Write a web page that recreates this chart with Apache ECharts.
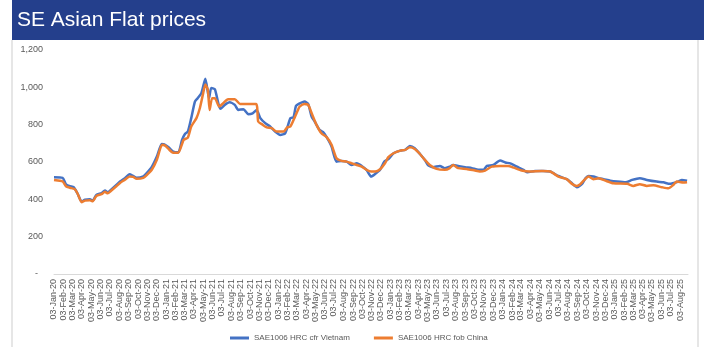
<!DOCTYPE html>
<html>
<head>
<meta charset="utf-8">
<script src="https://cdn.jsdelivr.net/npm/echarts@6/dist/echarts.min.js"></script>
<style>html,body{margin:0;padding:0;background:#fff}#c{width:704px;height:347px}</style>
</head>
<body>
<div id="c"></div>
<script>
const titleText = "SE Asian Flat prices";
const seriesNames = ["SAE1006 HRC cfr Vietnam", "SAE1006 HRC fob China"];
const yTicks = [0, 200, 400, 600, 800, 1000, 1200];

const vietnamDates = ["2020-01-03","2020-01-31","2020-02-11","2020-02-24","2020-03-07","2020-03-20","2020-04-02","2020-04-13","2020-04-29","2020-05-08","2020-05-20","2020-06-06","2020-06-17","2020-06-26","2020-07-06","2020-07-24","2020-08-05","2020-08-21","2020-09-05","2020-09-17","2020-09-28","2020-10-20","2020-10-31","2020-11-17","2020-12-03","2020-12-19","2020-12-27","2021-01-10","2021-01-25","2021-02-11","2021-02-23","2021-03-04","2021-03-14","2021-03-25","2021-04-06","2021-04-15","2021-04-27","2021-05-10","2021-05-22","2021-05-29","2021-06-10","2021-06-21","2021-06-28","2021-07-12","2021-07-28","2021-08-14","2021-08-25","2021-09-11","2021-09-27","2021-10-11","2021-10-24","2021-11-05","2021-11-21","2021-12-07","2021-12-23","2022-01-09","2022-01-25","2022-02-11","2022-02-21","2022-03-01","2022-03-10","2022-03-29","2022-04-10","2022-04-21","2022-05-01","2022-05-17","2022-05-28","2022-06-09","2022-06-25","2022-07-11","2022-07-27","2022-08-13","2022-08-29","2022-09-15","2022-10-01","2022-10-17","2022-11-01","2022-11-14","2022-11-30","2022-12-14","2022-12-27","2023-01-13","2023-02-04","2023-02-20","2023-03-07","2023-03-23","2023-04-09","2023-04-25","2023-05-05","2023-05-21","2023-06-13","2023-06-29","2023-07-15","2023-07-26","2023-08-12","2023-09-03","2023-09-25","2023-10-16","2023-11-02","2023-11-13","2023-12-04","2023-12-26","2024-01-12","2024-01-28","2024-02-19","2024-03-11","2024-03-24","2024-04-18","2024-05-15","2024-06-06","2024-07-03","2024-07-30","2024-08-16","2024-09-01","2024-09-18","2024-09-29","2024-10-09","2024-10-25","2024-11-11","2024-11-27","2024-12-19","2025-01-10","2025-02-07","2025-02-28","2025-03-25","2025-04-17","2025-05-19","2025-06-10","2025-07-01","2025-07-28","2025-08-09","2025-08-26"];
const vietnamValues = [518,515,481,470,465,430,388,398,400,393,424,433,447,437,450,477,495,513,534,525,516,523,540,575,629,697,695,679,656,652,718,749,763,835,924,942,969,1046,942,996,990,915,885,906,920,906,879,883,856,861,879,835,808,790,763,745,754,835,840,900,911,924,911,844,817,772,761,733,683,602,606,602,584,593,579,558,522,536,558,602,615,647,661,665,686,674,643,611,584,572,579,567,575,584,579,572,567,558,558,579,584,608,597,593,575,558,545,552,552,549,525,508,486,465,483,513,525,522,513,508,500,495,491,504,513,504,495,491,483,495,504,500];

const chinaDates = ["2020-01-03","2020-01-22","2020-02-01","2020-02-11","2020-02-24","2020-03-10","2020-03-20","2020-04-02","2020-04-13","2020-04-29","2020-05-08","2020-05-20","2020-06-06","2020-06-17","2020-06-26","2020-07-06","2020-07-24","2020-08-05","2020-08-21","2020-09-05","2020-09-17","2020-09-28","2020-10-20","2020-10-31","2020-11-17","2020-12-03","2020-12-20","2020-12-30","2021-01-10","2021-01-25","2021-02-11","2021-02-28","2021-03-14","2021-03-25","2021-04-11","2021-04-22","2021-05-03","2021-05-10","2021-05-18","2021-05-24","2021-06-01","2021-06-10","2021-06-24","2021-07-07","2021-07-23","2021-08-14","2021-08-31","2021-10-22","2021-10-29","2021-11-10","2021-11-26","2021-12-12","2021-12-28","2022-01-20","2022-01-31","2022-02-11","2022-02-24","2022-03-08","2022-03-13","2022-03-29","2022-04-10","2022-04-21","2022-05-07","2022-05-23","2022-06-09","2022-06-25","2022-07-11","2022-07-27","2022-08-13","2022-08-29","2022-09-15","2022-10-01","2022-10-17","2022-11-01","2022-11-14","2022-11-30","2022-12-16","2022-12-27","2023-01-13","2023-02-04","2023-02-20","2023-03-07","2023-03-23","2023-04-09","2023-04-25","2023-05-11","2023-06-02","2023-06-29","2023-07-15","2023-07-26","2023-08-12","2023-09-08","2023-10-05","2023-10-21","2023-11-07","2023-11-29","2023-12-26","2024-01-21","2024-02-08","2024-03-05","2024-04-01","2024-05-10","2024-06-06","2024-07-03","2024-07-30","2024-08-16","2024-09-01","2024-09-12","2024-09-23","2024-10-09","2024-10-25","2024-11-11","2024-12-03","2024-12-29","2025-02-12","2025-03-04","2025-03-25","2025-04-17","2025-05-08","2025-06-05","2025-06-26","2025-07-12","2025-07-23","2025-08-14","2025-08-26"];
const chinaValues = [504,500,495,470,462,455,430,385,393,395,390,418,428,440,432,445,470,488,505,522,520,510,515,530,560,612,692,688,670,650,650,718,731,790,835,888,969,1015,987,879,942,942,897,915,936,936,911,911,817,803,785,781,763,763,785,790,835,880,897,911,906,862,799,754,733,692,620,606,602,593,584,575,558,549,549,561,593,626,647,661,665,679,670,643,611,584,563,558,567,584,567,563,554,549,554,575,579,579,570,554,549,552,549,522,508,483,472,481,500,522,508,513,500,486,483,472,481,472,475,465,459,477,495,490,491];

const monthNames = ["Jan","Feb","Mar","Apr","May","Jun","Jul","Aug","Sep","Oct","Nov","Dec"];
const axisStart = "2020-01-03";
const axisEnd = "2025-08-29";

function ts(s){ return new Date(s + "T00:00:00").getTime(); }

const tickValues = [];
const tickLabels = [];
for (let y = 2020; y <= 2025; y++) {
  for (let m = 0; m < 12; m++) {
    if (y === 2025 && m > 7) break;
    tickValues.push(new Date(y, m, 3).getTime());
    tickLabels.push("03-" + monthNames[m] + "-" + String(y).slice(2));
  }
}

const chart = echarts.init(document.getElementById("c"), null, {renderer: "canvas"});
const font = "'Liberation Sans', Arial, sans-serif";
chart.setOption({
  animation: false,
  backgroundColor: "#ffffff",
  textStyle: {fontFamily: font},
  graphic: [
    {type: "rect", shape: {x: 12, y: 0, width: 692, height: 40}, style: {fill: "#243F8C"}, z: 10},
    {type: "text", left: 17, top: 10, style: {text: titleText, fill: "#ffffff", font: "21px " + font}, z: 11},
    {type: "rect", shape: {x: 11, y: 40, width: 2, height: 307}, style: {fill: "#e6e6e6"}, z: 1},
    {type: "rect", shape: {x: 697, y: 40, width: 2, height: 307}, style: {fill: "#e6e6e6"}, z: 1}
  ],
  grid: {left: 54, right: 16, top: 50, bottom: 73, containLabel: false},
  legend: {
    left: 225, top: 329,
    icon: "rect", itemWidth: 19, itemHeight: 3, itemGap: 24,
    textStyle: {fontSize: 8, color: "#595959", fontFamily: font},
    data: seriesNames
  },
  xAxis: {
    type: "value",
    min: ts(axisStart), max: ts(axisEnd),
    axisLine: {show: true, lineStyle: {color: "#d9d9d9", width: 1}},
    axisTick: {show: false},
    splitLine: {show: false},
    axisLabel: {
      customValues: tickValues,
      rotate: 90, fontSize: 9, color: "#595959", margin: 5,
      hideOverlap: false,
      formatter: function (v) {
        let best = 0, bd = Infinity;
        for (let i = 0; i < tickValues.length; i++) {
          const d = Math.abs(tickValues[i] - v);
          if (d < bd) { bd = d; best = i; }
        }
        return tickLabels[best];
      }
    }
  },
  yAxis: {
    type: "value",
    min: yTicks[0], max: yTicks[yTicks.length - 1], interval: 200,
    axisLine: {show: false}, axisTick: {show: false}, splitLine: {show: false},
    axisLabel: {
      fontSize: 9, color: "#595959", margin: 11,
      formatter: function (v) { return v === 0 ? "-  " : v.toLocaleString("en-US"); }
    }
  },
  series: [
    {
      name: seriesNames[0], type: "line", showSymbol: false, smooth: 0.2,
      lineStyle: {width: 2.5, color: "#4472C4"}, itemStyle: {color: "#4472C4"},
      data: vietnamDates.map((d, i) => [ts(d), vietnamValues[i]])
    },
    {
      name: seriesNames[1], type: "line", showSymbol: false, smooth: 0.2,
      lineStyle: {width: 2.5, color: "#ED7D31"}, itemStyle: {color: "#ED7D31"},
      data: chinaDates.map((d, i) => [ts(d), chinaValues[i]])
    }
  ]
});
</script>
</body>
</html>
